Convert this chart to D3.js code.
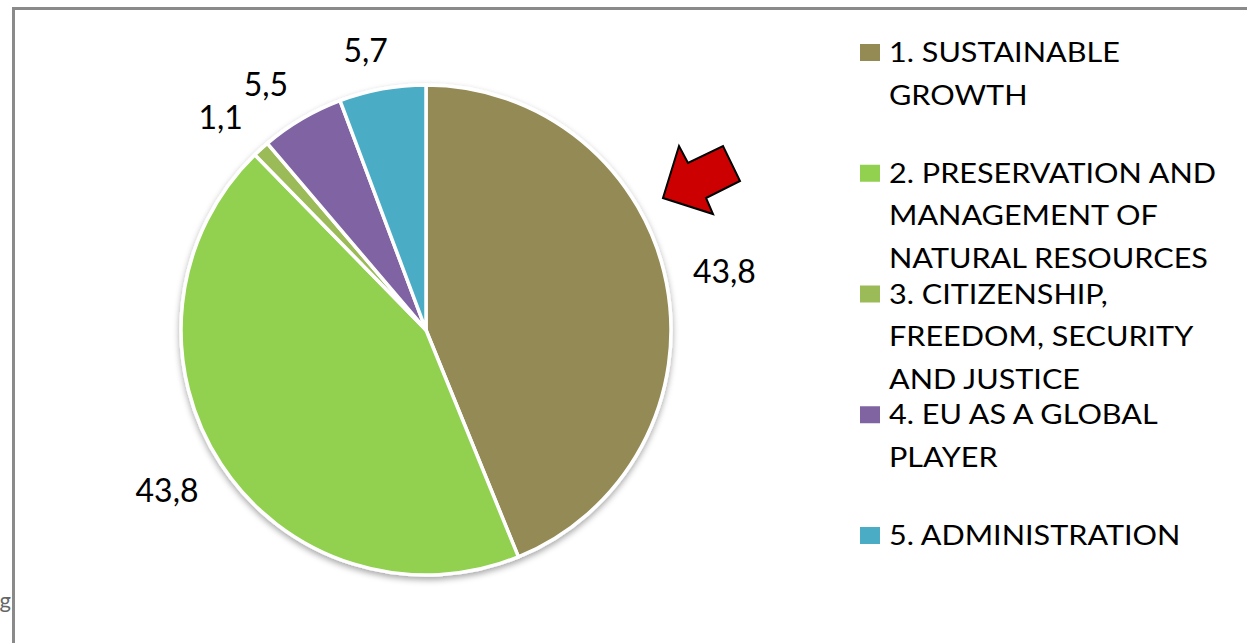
<!DOCTYPE html>
<html>
<head>
<meta charset="utf-8">
<script src="https://cdn.jsdelivr.net/npm/d3@7/dist/d3.min.js"></script>
<style>
  html, body { margin: 0; padding: 0; background: #ffffff; overflow: hidden; }
  svg { display: block; }
</style>
</head>
<body>
<svg id="chart" width="1247" height="643"></svg>
<script>
// ---- data ----
const categories = [
  "1. SUSTAINABLE GROWTH",
  "2. PRESERVATION AND MANAGEMENT OF NATURAL RESOURCES",
  "3. CITIZENSHIP, FREEDOM, SECURITY AND JUSTICE",
  "4. EU AS A GLOBAL PLAYER",
  "5. ADMINISTRATION"
];
const values = [43.8, 43.8, 1.1, 5.5, 5.7];
const valueLabels = ["43,8", "43,8", "1,1", "5,5", "5,7"];
const legendLines = [
  ["1. SUSTAINABLE", "GROWTH"],
  ["2. PRESERVATION AND", "MANAGEMENT OF", "NATURAL RESOURCES"],
  ["3. CITIZENSHIP,", "FREEDOM, SECURITY", "AND JUSTICE"],
  ["4. EU AS A GLOBAL", "PLAYER"],
  ["5. ADMINISTRATION"]
];
const colors = ["#948A54", "#92D050", "#9BBB59", "#8064A2", "#4BACC6"];

// ---- layout ----
const svg = d3.select("#chart");
const W = 1247, H = 643;
const cx = 426, cy = 330, r = 245;
const FONT = "Lato, 'Open Sans', 'Liberation Sans', sans-serif";

// frame
svg.append("path")
  .attr("d", `M13.5,${H} V8.5 H${W}`)
  .attr("fill", "none")
  .attr("stroke", "#8a8a8a")
  .attr("stroke-width", 3);

// cut-off text at left
svg.append("text")
  .attr("x", 11).attr("y", 608)
  .attr("text-anchor", "end")
  .attr("font-family", FONT)
  .attr("font-size", 22)
  .attr("fill", "#666")
  .text("g");

// shadow filter
const defs = svg.append("defs");
const f = defs.append("filter").attr("id", "shadow")
  .attr("x", "-10%").attr("y", "-10%").attr("width", "120%").attr("height", "125%");
f.append("feDropShadow")
  .attr("dx", 0).attr("dy", 3)
  .attr("stdDeviation", 3)
  .attr("flood-color", "#000")
  .attr("flood-opacity", 0.35);

const color = d3.scaleOrdinal().domain(categories).range(colors);

const pie = d3.pie().sort(null).value(d => d.value);
const data = categories.map((c, i) => ({ cat: c, value: values[i], label: valueLabels[i] }));
const arcs = pie(data);
const arc = d3.arc().innerRadius(0).outerRadius(r);

const g = svg.append("g").attr("transform", `translate(${cx},${cy})`);
g.append("g").attr("filter", "url(#shadow)")
  .selectAll("path")
  .data(arcs)
  .join("path")
  .attr("d", arc)
  .attr("fill", d => color(d.data.cat))
  .attr("stroke", "#ffffff")
  .attr("stroke-width", 3.5)
  .attr("stroke-linejoin", "round");

// value labels (outside end)
const R = r + 27;
const digitH = 23;
const clamp1 = v => Math.max(-1, Math.min(1, v));
const labels = g.selectAll("text.val")
  .data(arcs)
  .join("text")
  .attr("class", "val")
  .attr("font-family", FONT)
  .attr("font-size", 32)
  .attr("fill", "#000")
  .attr("text-anchor", "middle")
  .text(d => d.data.label);
labels.each(function(d) {
  const a = (d.startAngle + d.endAngle) / 2;
  const s = Math.sin(a), c = -Math.cos(a);
  const hw = this.getComputedTextLength() / 2;
  const hh = digitH / 2;
  const x = s * R + hw * clamp1(s * 3);
  const y = c * R + hh * clamp1(c * 3);
  d3.select(this).attr("x", x).attr("y", y + hh);
});

// arrow annotation
svg.append("polygon")
  .attr("points", "663,198 679,146 688,163 723,146 740,181 706,198 713,214")
  .attr("fill", "#CC0000")
  .attr("stroke", "#000")
  .attr("stroke-width", 2)
  .attr("stroke-linejoin", "miter");

// legend
const ly = d3.scalePoint().domain(categories).range([62, 545]);
const lineH = 42.5;
const leg = svg.append("g");
const items = leg.selectAll("g.item")
  .data(categories)
  .join("g")
  .attr("class", "item");
items.append("rect")
  .attr("x", 860)
  .attr("y", d => ly(d) - 18)
  .attr("width", 20)
  .attr("height", 17)
  .attr("fill", d => color(d));
const texts = items.selectAll("text")
  .data((d, i) => legendLines[i].map((t, j) => ({ t, y: ly(d) + j * lineH })))
  .join("text")
  .attr("x", 889)
  .attr("y", d => d.y)
  .attr("font-family", FONT)
  .attr("font-size", 27)
  .attr("fill", "#000")
  .text(d => d.t);

// fit legend width to reference proportions
let refW = null;
texts.each(function(d) { if (d.t === "2. PRESERVATION AND") refW = this.getComputedTextLength(); });
const k = refW ? 327 / refW : 1;
texts.each(function() {
  const w = this.getComputedTextLength();
  d3.select(this).attr("textLength", w * k).attr("lengthAdjust", "spacingAndGlyphs");
});
</script>
</body>
</html>
